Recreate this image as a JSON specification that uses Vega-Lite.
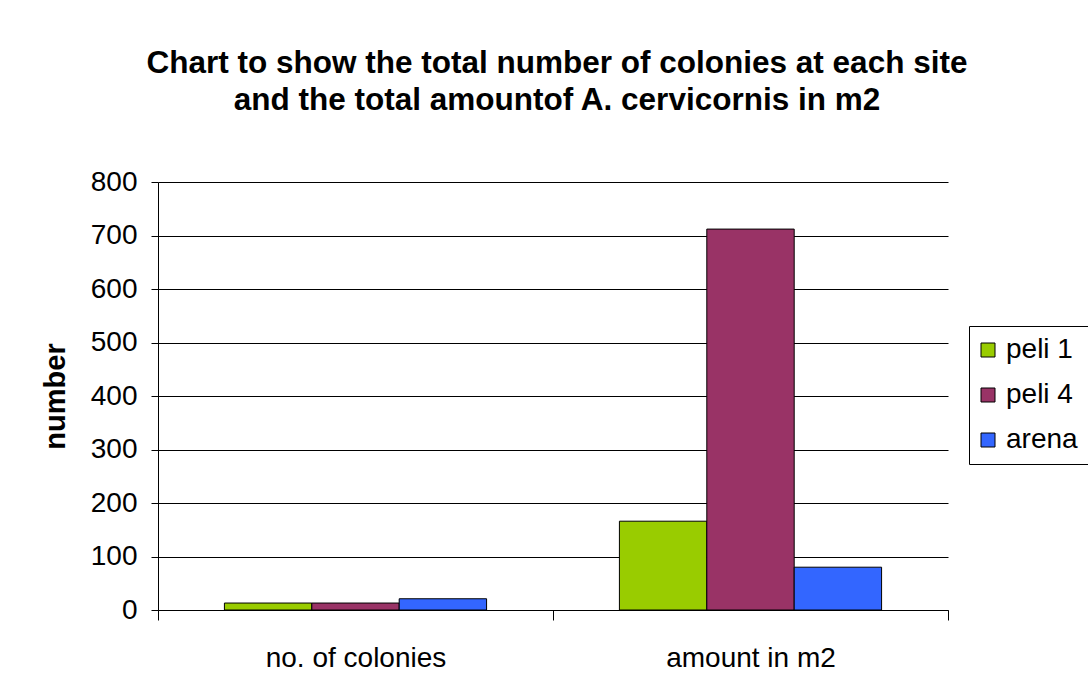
{
  "$schema": "https://vega.github.io/schema/vega-lite/v6.json",
  "width": 790,
  "height": 428,
  "autosize": {"type": "none"},
  "padding": {"left": 158, "top": 182, "right": 140, "bottom": 85},
  "background": "white",
  "title": {
    "text": ["Chart to show the total number of colonies at each site", "and the total amountof A. cervicornis  in m2"],
    "font": "Liberation Sans",
    "fontSize": 31.5,
    "fontWeight": "bold",
    "color": "black",
    "lineHeight": 37,
    "anchor": "middle",
    "offset": 52,
    "dx": 4
  },
  "data": {
    "values": [
      {"measure": "no. of colonies", "site": "peli 1", "value": 13},
      {"measure": "no. of colonies", "site": "peli 4", "value": 13},
      {"measure": "no. of colonies", "site": "arena", "value": 21},
      {"measure": "amount in m2", "site": "peli 1", "value": 166},
      {"measure": "amount in m2", "site": "peli 4", "value": 712},
      {"measure": "amount in m2", "site": "arena", "value": 80}
    ]
  },
  "mark": {"type": "bar", "stroke": "black", "strokeWidth": 1},
  "encoding": {
    "x": {
      "field": "measure",
      "type": "nominal",
      "sort": ["no. of colonies", "amount in m2"],
      "scale": {"paddingInner": 0, "paddingOuter": 0},
      "axis": {
        "title": null,
        "labelAngle": 0,
        "labelFont": "Liberation Sans",
        "labelFontSize": 28,
        "labelColor": "black",
        "labelPadding": 24,
        "labelLimit": 400,
        "tickBand": "extent",
        "tickSize": 10,
        "tickColor": "black",
        "domainColor": "black",
        "grid": false
      }
    },
    "xOffset": {
      "field": "site",
      "type": "nominal",
      "sort": ["peli 1", "peli 4", "arena"],
      "scale": {"paddingInner": 0, "paddingOuter": 0.76}
    },
    "y": {
      "field": "value",
      "type": "quantitative",
      "scale": {"domain": [0, 800]},
      "axis": {
        "title": "number",
        "titleFont": "Liberation Sans",
        "titleFontSize": 29,
        "titleFontWeight": "bold",
        "titleColor": "black",
        "titlePadding": 20,
        "values": [0, 100, 200, 300, 400, 500, 600, 700, 800],
        "labelFont": "Liberation Sans",
        "labelFontSize": 28,
        "labelColor": "black",
        "labelPadding": 14,
        "tickSize": 7,
        "tickColor": "black",
        "domainColor": "black",
        "grid": true,
        "gridColor": "black",
        "gridOpacity": 1
      }
    },
    "color": {
      "field": "site",
      "type": "nominal",
      "sort": ["peli 1", "peli 4", "arena"],
      "scale": {"domain": ["peli 1", "peli 4", "arena"], "range": ["#99CC00", "#993366", "#3366FF"]},
      "legend": {
        "title": null,
        "orient": "none",
        "legendX": 811,
        "legendY": 144,
        "strokeColor": "black",
        "fillColor": "white",
        "padding": 10,
        "symbolType": "square",
        "symbolSize": 196,
        "symbolOffset": -5,
        "symbolStrokeColor": "black",
        "symbolStrokeWidth": 1,
        "symbolOpacity": 1,
        "labelFont": "Liberation Sans",
        "labelFontSize": 28,
        "labelColor": "black",
        "rowPadding": 17,
        "labelOffset": 4
      }
    }
  },
  "config": {
    "view": {"stroke": null},
    "axis": {"domainWidth": 1, "tickWidth": 1, "gridWidth": 1}
  }
}
